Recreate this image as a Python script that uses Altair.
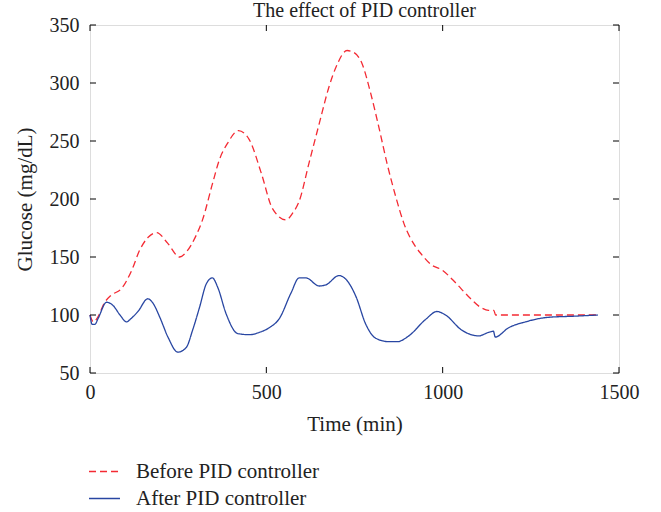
import altair as alt
import pandas as pd

# ---- data ----
before_t = [0, 10, 20, 42, 60, 90, 119, 141, 165, 189, 220, 254, 275, 300, 319, 348, 367, 390,
            421, 440, 452, 486, 517, 556, 575, 593, 621, 650, 678, 698, 729, 750, 771, 796, 819,
            842, 867, 890, 923, 938, 969, 997, 1036, 1073, 1111, 1130, 1145, 1150, 1200, 1300, 1440]
before_g = [100, 94, 97, 111, 117, 123, 139, 156, 167, 171, 162, 150, 155, 168, 182, 214, 234, 248,
            259, 256, 251, 222, 192, 182, 188, 198, 231, 265, 297, 314, 328, 326, 317, 291, 262,
            231, 202, 179, 159, 153, 143, 139, 128, 116, 106, 104, 104, 100, 100, 100, 100]

after_t = [0, 6, 14, 23, 47, 66, 85, 104, 113, 136, 164, 179, 198, 221, 249, 273, 291, 311, 330,
           347, 362, 386, 419, 452, 480, 508, 537, 570, 593, 612, 650, 669, 706, 725, 754, 782,
           810, 847, 871, 904, 951, 984, 1008, 1054, 1102, 1130, 1144, 1149, 1187, 1234, 1299,
           1376, 1440]
after_g = [100, 92, 92, 97, 111, 108, 100, 94, 96, 103, 114, 110, 98, 81, 68, 72, 87, 107, 127,
           132, 124, 101, 84, 83, 85, 89, 97, 119, 132, 132, 125, 126, 134, 131, 116, 92,
           80, 77, 77, 82, 96, 103, 100, 87, 82, 85, 86, 81, 89, 94, 98,
           99, 100]

series_names = ["Before PID controller", "After PID controller"]
x_ticks = [0, 500, 1000, 1500]
y_ticks = [50, 100, 150, 200, 250, 300, 350]

FONT = "Liberation Serif"
W, H = 529, 348
RED = "#f42a33"
BLUE = "#2846a2"

df = pd.concat([
    pd.DataFrame({"t": before_t, "g": before_g, "s": series_names[0]}),
    pd.DataFrame({"t": after_t, "g": after_g, "s": series_names[1]}),
])
xt = pd.DataFrame({"v": x_ticks})
yt = pd.DataFrame({"v": y_ticks})

xscale = alt.Scale(domain=[0, 1500], nice=False, zero=False)
yscale = alt.Scale(domain=[50, 350], nice=False, zero=False)

lines = alt.Chart(df).mark_line(strokeWidth=1.3, interpolate="monotone").encode(
    x=alt.X("t:Q", scale=xscale,
            axis=alt.Axis(values=x_ticks, format="d", title="Time (min)", ticks=False,
                          domain=False, grid=False, labelFlush=False, labelPadding=9,
                          titlePadding=11, labelFontSize=20, titleFontSize=21,
                          labelFont=FONT, titleFont=FONT, titleFontWeight="normal",
                          labelColor="#222", titleColor="#222")),
    y=alt.Y("g:Q", scale=yscale,
            axis=alt.Axis(values=y_ticks, format="d", title="Glucose (mg/dL)", ticks=False,
                          domain=False, grid=False, labelFlush=False, labelPadding=11,
                          titlePadding=14, labelFontSize=20, titleFontSize=21,
                          labelFont=FONT, titleFont=FONT, titleFontWeight="normal",
                          labelColor="#222", titleColor="#222")),
    color=alt.Color("s:N", scale=alt.Scale(domain=series_names, range=[RED, BLUE]),
                    legend=alt.Legend(title=None, orient="none", legendX=-2, legendY=430,
                                      symbolType="stroke", symbolSize=960,
                                      symbolStrokeWidth=1.5, labelFontSize=21, labelFont=FONT,
                                      labelColor="#222", labelOffset=15, rowPadding=0,
                                      labelLimit=0)),
    strokeDash=alt.StrokeDash("s:N", scale=alt.Scale(domain=series_names,
                                                     range=[[7, 4], [1, 0]]),
                              legend=None),
    order=alt.Order("t:Q"),
)

tick_len = 6
xb = alt.Chart(xt).mark_rule(color="black", strokeWidth=1).encode(
    x=alt.X("v:Q", scale=xscale), y=alt.value(H), y2=alt.value(H - tick_len))
xtop = alt.Chart(xt).mark_rule(color="black", strokeWidth=1).encode(
    x=alt.X("v:Q", scale=xscale), y=alt.value(0), y2=alt.value(tick_len))
yl = alt.Chart(yt).mark_rule(color="black", strokeWidth=1).encode(
    y=alt.Y("v:Q", scale=yscale), x=alt.value(0), x2=alt.value(tick_len))
yr = alt.Chart(yt).mark_rule(color="black", strokeWidth=1).encode(
    y=alt.Y("v:Q", scale=yscale), x=alt.value(W), x2=alt.value(W - tick_len))

chart = alt.layer(lines, xb, xtop, yl, yr).properties(
    width=W, height=H,
    title=alt.TitleParams("The effect of PID controller", fontSize=20, font=FONT,
                          fontWeight="normal", color="#222", anchor="middle", offset=-6,
                          dx=10, frame="group"),
    autosize=alt.AutoSizeParams(type="none"),
    padding={"left": 90, "top": 25, "right": 42, "bottom": 139},
).configure_view(stroke="black", strokeWidth=1.2).configure(background="white")

chart.save("out.html", embed_options={"renderer": "svg", "actions": False})
